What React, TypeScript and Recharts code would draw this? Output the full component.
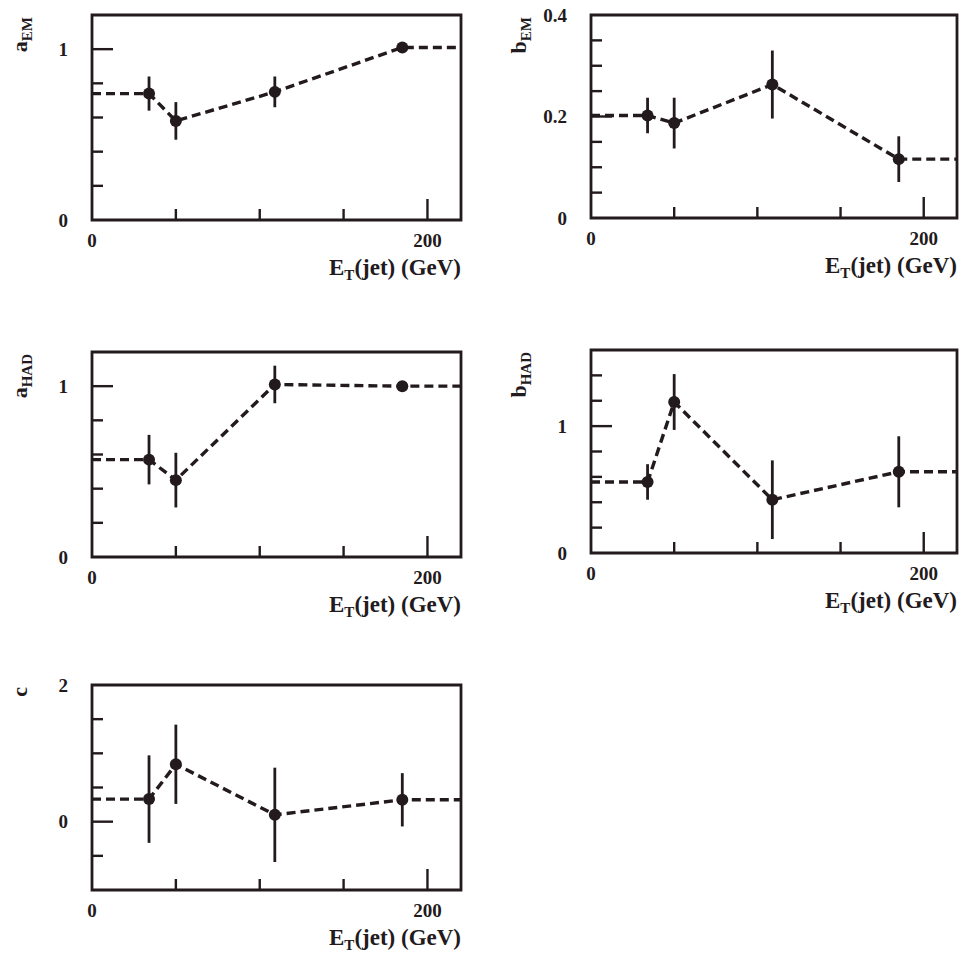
import React from "react";
import {
  ComposedChart,
  XAxis,
  YAxis,
  Line,
  Scatter,
  ErrorBar,
  ReferenceArea,
} from "recharts";

// jet E_T bins (GeV), shared by all five panels
const etJet = [34, 50, 109, 185];

const aEM = [0.74, 0.58, 0.75, 1.01];
const aEMErr = [0.1, 0.11, 0.09, 0.02];

const bEM = [0.202, 0.187, 0.263, 0.116];
const bEMErr = [0.035, 0.05, 0.067, 0.045];

const aHAD = [0.57, 0.45, 1.01, 1.0];
const aHADErr = [0.145, 0.16, 0.11, 0.03];

const bHAD = [0.56, 1.19, 0.42, 0.64];
const bHADErr = [0.14, 0.22, 0.31, 0.28];

const cVal = [0.33, 0.84, 0.1, 0.32];
const cErr = [0.64, 0.58, 0.69, 0.39];

const xTicks = [0, 50, 100, 150, 200];
const xLabeled = [0, 200];
const xMajor = [200];
const X_MAX = 220;

const INK = "#221a1c";
const FONT = '"Liberation Serif", "Times New Roman", serif';
const Y_AXIS_W = 92;
const TOP_M = 15;
const RIGHT_M = 5;
const X_AXIS_H = 70;

type PanelCfg = {
  name: string;
  sub?: string;
  values: number[];
  errors: number[];
  domain: [number, number];
  ticks: number[];
  major: number[];
  labeled: number[];
  frame: { left: number; top: number; w: number; h: number };
};

const panels: PanelCfg[] = [
  {
    name: "a",
    sub: "EM",
    values: aEM,
    errors: aEMErr,
    domain: [0, 1.2],
    ticks: [0, 0.2, 0.4, 0.6, 0.8, 1, 1.2],
    major: [1],
    labeled: [0, 1],
    frame: { left: 92, top: 15, w: 369, h: 205 },
  },
  {
    name: "b",
    sub: "EM",
    values: bEM,
    errors: bEMErr,
    domain: [0, 0.4],
    ticks: [0, 0.05, 0.1, 0.15, 0.2, 0.25, 0.3, 0.35, 0.4],
    major: [0.2],
    labeled: [0, 0.2, 0.4],
    frame: { left: 591, top: 15, w: 366, h: 203 },
  },
  {
    name: "a",
    sub: "HAD",
    values: aHAD,
    errors: aHADErr,
    domain: [0, 1.2],
    ticks: [0, 0.2, 0.4, 0.6, 0.8, 1, 1.2],
    major: [1],
    labeled: [0, 1],
    frame: { left: 92, top: 352, w: 369, h: 205 },
  },
  {
    name: "b",
    sub: "HAD",
    values: bHAD,
    errors: bHADErr,
    domain: [0, 1.6],
    ticks: [0, 0.2, 0.4, 0.6, 0.8, 1, 1.2, 1.4, 1.6],
    major: [1],
    labeled: [0, 1],
    frame: { left: 591, top: 350, w: 366, h: 203 },
  },
  {
    name: "c",
    values: cVal,
    errors: cErr,
    domain: [-1, 2],
    ticks: [-1, -0.5, 0, 0.5, 1, 1.5, 2],
    major: [0],
    labeled: [0, 2],
    frame: { left: 92, top: 685, w: 369, h: 205 },
  },
];

const textStyle = {
  fill: INK,
  fontFamily: FONT,
  fontWeight: 700,
} as const;

function Panel({ cfg }: { cfg: PanelCfg }) {
  const { frame } = cfg;
  const width = Y_AXIS_W + frame.w + RIGHT_M;
  const height = TOP_M + frame.h + X_AXIS_H;
  const points = etJet.map((x, i) => ({ x, y: cfg.values[i], err: cfg.errors[i] }));
  const last = cfg.values[cfg.values.length - 1];
  // fitted curve held flat outside the measured bins
  const fit = [{ x: 0, y: cfg.values[0] }, ...points, { x: X_MAX, y: last }];

  const yTick = (p: any) => {
    const v = p.payload.value;
    const len = cfg.major.includes(v) ? 21 : 11;
    const showLine = v !== cfg.domain[0] && v !== cfg.domain[1];
    return (
      <g>
        {showLine && (
          <line x1={p.x} x2={p.x + len} y1={p.y} y2={p.y} stroke={INK} strokeWidth={2.4} />
        )}
        {cfg.labeled.includes(v) && (
          <text x={p.x - 24} y={p.y} dy="0.35em" textAnchor="end" fontSize={19} {...textStyle}>
            {String(v)}
          </text>
        )}
      </g>
    );
  };

  const xTick = (p: any) => {
    const v = p.payload.value;
    const len = xMajor.includes(v) ? 21 : 11;
    return (
      <g>
        {v !== 0 && (
          <line x1={p.x} x2={p.x} y1={p.y} y2={p.y - len} stroke={INK} strokeWidth={2.4} />
        )}
        {xLabeled.includes(v) && (
          <text x={p.x} y={p.y + 27} textAnchor="middle" fontSize={19} {...textStyle}>
            {String(v)}
          </text>
        )}
      </g>
    );
  };

  const xTitle = (p: any) => {
    const vb = p.viewBox;
    return (
      <text x={vb.x + vb.width} y={vb.y + 55} textAnchor="end" fontSize={23} {...textStyle}>
        <tspan>E</tspan>
        <tspan dy={5} fontSize={15}>T</tspan>
        <tspan dy={-5}>(jet) (GeV)</tspan>
      </text>
    );
  };

  // rotated y-axis title, drawn in its own small svg beside the frame
  const bx = 27;
  const by = TOP_M + 2;

  return (
    <div style={{ position: "absolute", left: frame.left - Y_AXIS_W, top: frame.top - TOP_M }}>
      <ComposedChart
        width={width}
        height={height}
        margin={{ top: TOP_M, right: RIGHT_M, left: 0, bottom: 0 }}
      >
        <XAxis
          type="number"
          dataKey="x"
          domain={[0, X_MAX]}
          ticks={xTicks}
          interval={0}
          allowDataOverflow
          height={X_AXIS_H}
          axisLine={false}
          tickLine={false}
          tickSize={0}
          tickMargin={0}
          tick={xTick}
          label={xTitle}
        />
        <YAxis
          type="number"
          dataKey="y"
          domain={cfg.domain}
          ticks={cfg.ticks}
          interval={0}
          allowDataOverflow
          width={Y_AXIS_W}
          axisLine={false}
          tickLine={false}
          tickSize={0}
          tickMargin={0}
          tick={yTick}
        />
        <ReferenceArea
          x1={0}
          x2={X_MAX}
          y1={cfg.domain[0]}
          y2={cfg.domain[1]}
          fill="none"
          fillOpacity={0}
          stroke={INK}
          strokeWidth={2.8}
          strokeOpacity={1}
        />
        <Line
          data={fit}
          dataKey="y"
          type="linear"
          stroke={INK}
          strokeWidth={3.4}
          strokeDasharray="9 5"
          dot={false}
          activeDot={false}
          isAnimationActive={false}
        />
        <Scatter
          data={points}
          dataKey="y"
          isAnimationActive={false}
          shape={(p: any) => <circle cx={p.cx} cy={p.cy} r={6} fill={INK} />}
        >
          <ErrorBar
            dataKey="err"
            direction="y"
            width={0}
            stroke={INK}
            strokeWidth={2.8}
            isAnimationActive={false}
          />
        </Scatter>
      </ComposedChart>
      <svg
        width={60}
        height={100}
        style={{ position: "absolute", left: 0, top: 0, overflow: "visible", pointerEvents: "none" }}
      >
        <text
          x={bx}
          y={by}
          transform={`rotate(-90 ${bx} ${by})`}
          textAnchor="end"
          fontSize={22}
          {...textStyle}
        >
          <tspan>{cfg.name}</tspan>
          {cfg.sub && (
            <tspan dy={5} fontSize={15}>
              {cfg.sub}
            </tspan>
          )}
        </text>
      </svg>
    </div>
  );
}

export default function App() {
  return (
    <div
      style={{
        position: "absolute",
        left: 0,
        top: 0,
        width: 962,
        height: 955,
        background: "#ffffff",
        overflow: "hidden",
      }}
    >
      {panels.map((cfg, i) => (
        <Panel key={i} cfg={cfg} />
      ))}
    </div>
  );
}
